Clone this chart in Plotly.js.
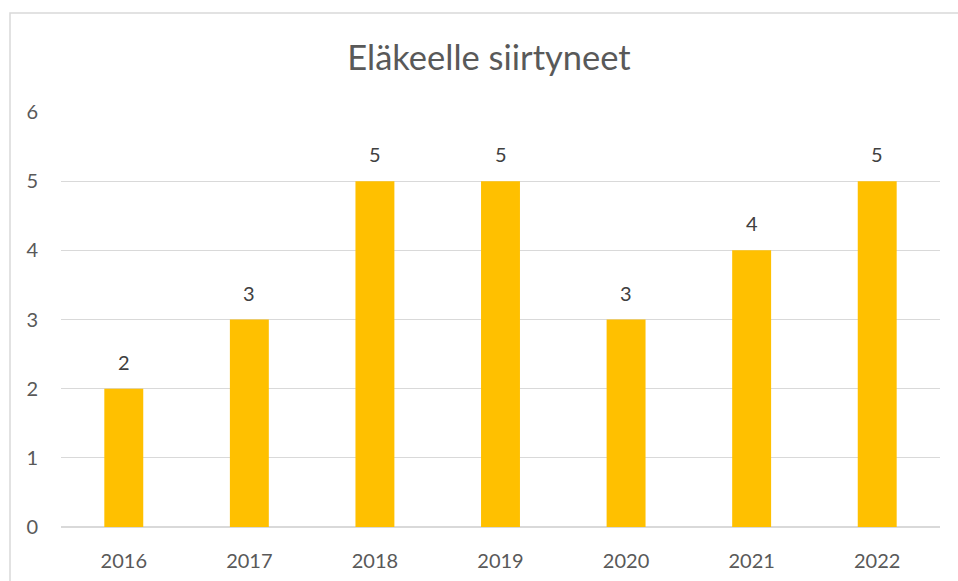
<!DOCTYPE html>
<html>
<head>
<meta charset="utf-8">
<script src="https://cdn.plot.ly/plotly-3.0.1.min.js"></script>
<style>html,body{margin:0;padding:0;background:#fff;}#chart{width:958px;height:581px;}</style>
</head>
<body>
<div id="chart"></div>
<script>
const years = ['2016', '2017', '2018', '2019', '2020', '2021', '2022'];
const retirees = [2, 3, 5, 5, 3, 4, 5];
const yTicks = [0, 1, 2, 3, 4, 5, 6];
const chartTitle = 'Eläkeelle siirtyneet';

const FONT = 'Lato, "Open Sans", sans-serif';

const trace = {
  type: 'bar',
  x: years,
  y: retirees,
  width: 0.31,
  marker: {color: '#FFC000', line: {width: 0}},
  hoverinfo: 'x+y'
};

const annotations = years.map((yr, i) => ({
  x: i, y: retirees[i], xref: 'x', yref: 'y',
  text: String(retirees[i]), showarrow: false,
  yanchor: 'bottom', yshift: 13,
  font: {family: FONT, size: 20, color: '#404040'}
}));

const layout = {
  width: 958, height: 581,
  margin: {l: 61, r: 18, t: 112, b: 54, pad: 0},
  paper_bgcolor: '#ffffff', plot_bgcolor: '#ffffff',
  title: {text: chartTitle, x: 489 / 958, xref: 'container', xanchor: 'center',
          y: 1 - 58 / 581, yanchor: 'middle',
          font: {family: FONT, size: 34.5, color: '#595959'}},
  font: {family: FONT, color: '#595959'},
  showlegend: false,
  xaxis: {type: 'category', categoryorder: 'array', categoryarray: years,
          range: [-0.5, years.length - 0.5], showgrid: false, zeroline: false,
          showline: false, ticks: 'outside', ticklen: 16, tickcolor: 'rgba(0,0,0,0)',
          tickfont: {family: FONT, size: 20, color: '#595959'},
          automargin: false},
  yaxis: {range: [0, 6], tickvals: yTicks, ticktext: yTicks.map(String), showgrid: true,
          gridcolor: '#d9d9d9', gridwidth: 1.3, zeroline: true, zerolinecolor: '#d9d9d9', zerolinewidth: 1.3,
          showline: false, ticks: 'outside', ticklen: 18, tickcolor: 'rgba(0,0,0,0)',
          tickfont: {family: FONT, size: 20, color: '#595959'}, automargin: false},
  annotations: annotations,
  shapes: [{type: 'rect', xref: 'paper', yref: 'paper',
            x0: (10 - 61) / 879, x1: 1.1, y0: -0.3, y1: 1 + (112 - 13) / 415,
            line: {color: '#d9d9d9', width: 1.5}, fillcolor: 'rgba(0,0,0,0)', layer: 'below'}]
};

Plotly.newPlot('chart', [trace], layout, {displayModeBar: false, staticPlot: true});
</script>
</body>
</html>
